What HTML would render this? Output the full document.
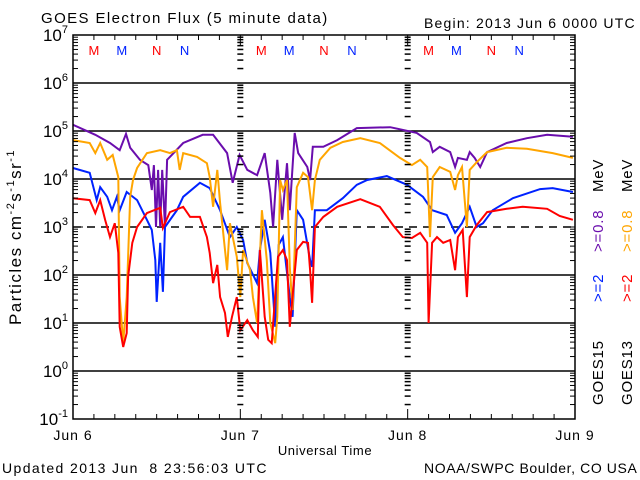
<!DOCTYPE html>
<html><head><meta charset="utf-8"><style>
html,body{margin:0;padding:0;background:#fff;}
svg{display:block;font-family:"Liberation Sans",sans-serif;}
</style></head><body>
<svg id="chart" width="640" height="480" viewBox="0 0 640 480" xmlns="http://www.w3.org/2000/svg">
<rect width="640" height="480" fill="#fff"/>
<text x="41" y="23" font-size="15" letter-spacing="1.4">GOES Electron Flux (5 minute data)</text>
<text x="424" y="28" font-size="14" letter-spacing="1.2">Begin: 2013 Jun 6 0000 UTC</text>
<text x="2" y="473" font-size="14" letter-spacing="1.4" xml:space="preserve">Updated 2013 Jun  8 23:56:03 UTC</text>
<text x="424" y="473" font-size="14" letter-spacing="0.6">NOAA/SWPC Boulder, CO USA</text>
<text x="325" y="455" font-size="13" text-anchor="middle" letter-spacing="0.6">Universal Time</text>
<text transform="translate(21,237) rotate(-90)" font-size="17" text-anchor="middle" letter-spacing="1.5">Particles cm<tspan dy="-7" font-size="11">-2</tspan><tspan dy="7">s</tspan><tspan dy="-7" font-size="11">-1</tspan><tspan dy="7">sr</tspan><tspan dy="-7" font-size="11">-1</tspan></text>
<g id="grid"></g>
<g id="series"></g>
<g id="axes"></g>
<g font-size="15" letter-spacing="0.8">
<text transform="translate(603,405) rotate(-90)">GOES15</text>
<text transform="translate(603,302) rotate(-90)" fill="#0022ff">&gt;=2</text>
<text transform="translate(603,252) rotate(-90)" fill="#6a0dad">&gt;=0.8</text>
<text transform="translate(603,192) rotate(-90)">MeV</text>
<text transform="translate(632,405) rotate(-90)">GOES13</text>
<text transform="translate(632,302) rotate(-90)" fill="#ff0000">&gt;=2</text>
<text transform="translate(632,252) rotate(-90)" fill="#ffa500">&gt;=0.8</text>
<text transform="translate(632,192) rotate(-90)">MeV</text>
</g>
</svg>
<script>
// ---- data (time in hours since 2013 Jun 6 00:00 UTC, values as log10 flux) ----
const dayLabels = ["Jun 6","Jun 7","Jun 8","Jun 9"];
const yTickExps = [-1,0,1,2,3,4,5,6,7];
const markerHours = [3,7,12,16,27,31,36,40,51,55,60,64];
const markerLabels = ["M","M","N","N","M","M","N","N","M","M","N","N"];
const markerColors = ["#ff0000","#0022ff","#ff0000","#0022ff","#ff0000","#0022ff","#ff0000","#0022ff","#ff0000","#0022ff","#ff0000","#0022ff"];

const purpleHours = [0,3.2,5.3,6.7,7.6,8.2,9.6,10.8,11.3,11.6,11.9,12.2,12.5,12.8,13.2,13.5,13.9,15.8,18.6,20.1,22.1,22.9,23.9,25.0,26.4,27.5,28.3,28.7,29.3,30.0,30.7,31.1,31.8,32.3,33.6,34.0,34.4,35.9,37.9,40.7,45.5,49.3,51.2,51.6,52.6,54.1,54.8,55.2,56.5,56.9,57.6,58.4,59.4,62.2,65.1,68.0,71.7];
const purpleLog = [5.13,4.92,4.75,4.60,4.94,4.65,4.40,4.29,3.77,4.29,3.0,4.19,3.0,4.19,3.0,4.40,4.46,4.75,4.92,4.92,4.54,3.92,4.5,4.19,4.08,4.54,3.71,3.0,4.40,3.15,4.33,3.35,4.96,4.54,4.25,3.98,4.67,4.67,4.81,5.06,5.08,4.96,4.77,4.56,4.67,4.56,4.25,4.44,4.40,4.56,4.44,4.25,4.56,4.75,4.85,4.92,4.88];

const blueHours = [0,2.4,3.4,3.9,4.9,5.6,6.3,6.7,7.7,9.2,10.6,11.3,11.8,12.0,12.5,12.9,13.2,14.9,15.8,18.2,19.6,21.1,22.5,23.5,24.4,25.0,26.4,26.8,27.5,28.3,29.0,29.5,30.1,31.1,31.5,32.1,33.0,34.0,34.3,34.7,36.4,38.7,40.7,42.2,45.0,47.9,50.2,51.5,53.6,54.8,55.8,56.9,57.9,58.8,60.2,63.1,67.0,68.8,71.7];
const blueLog = [4.23,4.13,3.56,3.83,3.63,3.35,3.63,3.35,3.73,3.56,3.15,2.94,2.31,1.44,2.67,1.65,3.0,3.35,3.63,3.92,3.81,3.35,2.79,3.0,2.73,2.25,1.83,2.52,3.15,2.46,0.92,2.63,2.79,1.54,1.13,3.35,3.15,2.31,2.17,3.35,3.35,3.60,3.88,3.98,4.06,3.88,3.63,3.35,3.25,2.88,3.08,3.42,3.0,3.08,3.35,3.60,3.79,3.81,3.73];

const orangeHours = [0,2.4,3.2,3.9,4.9,5.7,6.5,6.7,7.2,7.7,8.2,8.6,9.2,10.6,12.5,13.9,14.9,15.3,15.8,17.8,19.2,19.6,20.1,20.7,21.1,22.1,22.5,23.5,24.0,24.4,25.4,25.8,26.4,27.1,27.8,28.3,29.0,29.3,29.7,30.1,30.7,31.1,31.5,32.1,33.0,33.7,34.3,34.7,35.4,36.9,38.7,41.2,44.0,46.9,48.6,49.8,50.8,51.2,51.6,52.6,54.1,54.8,55.2,55.8,56.5,56.9,57.9,59.4,62.2,65.1,68.8,71.7];
const orangeLog = [4.81,4.75,4.54,4.75,4.40,4.5,4.04,1.54,0.58,1.54,3.63,3.98,4.23,4.54,4.60,4.54,4.60,4.19,4.54,4.46,4.33,4.04,3.42,4.19,3.5,2.10,3.08,2.38,1.54,2.52,2.10,1.54,1.0,3.35,2.31,1.0,0.58,1.13,3.98,3.77,3.98,2.17,1.27,3.83,4.13,4.04,3.35,3.98,4.40,4.65,4.77,4.85,4.75,4.44,4.29,4.40,4.25,2.79,4.04,4.25,4.15,3.77,4.08,4.25,3.0,4.19,4.35,4.56,4.65,4.63,4.54,4.44];

const redHours = [0,2.4,3.2,3.9,4.6,5.3,6.0,6.5,6.7,7.2,7.7,7.9,8.5,9.2,10.6,12.5,12.9,13.9,15.8,16.8,18.2,19.2,19.6,20.1,20.7,21.1,21.8,22.2,22.8,23.5,24.0,25.0,25.8,26.5,26.8,27.5,28.0,28.5,29.4,30.1,30.7,31.1,32.1,33.0,33.7,34.0,34.3,34.7,35.9,37.9,41.2,44.0,45.9,47.3,48.6,49.8,50.8,51.0,51.5,52.2,53.1,54.1,54.8,55.2,55.9,56.5,56.9,57.9,59.4,62.2,64.5,68.0,69.8,71.7];
const redLog = [3.60,3.56,3.29,3.56,3.15,2.79,3.08,2.46,0.92,0.5,0.79,1.96,2.67,3.0,3.29,3.40,2.98,3.31,3.42,3.21,3.21,2.79,2.46,1.83,2.21,1.54,1.21,0.71,1.13,1.54,0.85,1.06,0.85,0.71,2.52,1.13,0.65,0.58,2.38,2.52,2.31,0.92,2.52,2.69,2.67,2.10,1.42,3.0,3.21,3.42,3.58,3.42,3.04,2.79,2.77,2.88,2.67,1.0,2.67,2.79,2.67,2.73,2.10,2.79,2.94,1.54,2.79,3.04,3.31,3.38,3.42,3.38,3.23,3.15];

// ---- axis functions ----
const X0=73, X1=575, Y0=35, Y1=419, HOURS=72, EMIN=-1, EMAX=7;
function xScale(h){ return X0 + (h/HOURS)*(X1-X0); }
function yScale(e){ return Y1 - (e-EMIN)/(EMAX-EMIN)*(Y1-Y0); }
const NS="http://www.w3.org/2000/svg";
function mk(tag, attrs, parent){ const el=document.createElementNS(NS,tag); for(const k in attrs) el.setAttribute(k,attrs[k]); parent.appendChild(el); return el; }
const grid=document.getElementById('grid'), axes=document.getElementById('axes'), series=document.getElementById('series');

yTickExps.forEach(e=>{
  if(e===EMIN||e===EMAX) return;
  const y=yScale(e);
  const ln=mk('line',{x1:X0,x2:X1,y1:y,y2:y,stroke:'#000','stroke-width':1.5},grid);
  if(e===3) ln.setAttribute('stroke-dasharray','8,6');
  
  
});

yTickExps.forEach(e=>{
  const y=yScale(e);
  const t=mk('text',{x:X0-5,y:y+6,'font-size':17,'text-anchor':'end'},axes);
  
  
  t.textContent='10';
  const s=mk('tspan',{dy:-8,'font-size':11},t); s.textContent=String(e);
  if(e<EMAX){
    for(let m=2;m<=9;m++){
      const ym=yScale(e+Math.log10(m));
      [[X0,X0+5],[X1-5,X1]].forEach(p=>mk('line',{x1:p[0],x2:p[1],y1:ym,y2:ym,stroke:'#000','stroke-width':1},axes));
      [1,2].forEach(d=>{const xd=xScale(24*d); mk('line',{x1:xd-3,x2:xd+3,y1:ym,y2:ym,stroke:'#000','stroke-width':1.5},axes);});
    }
  }
  [[X0,X0+10],[X1-10,X1]].forEach(p=>mk('line',{x1:p[0],x2:p[1],y1:y,y2:y,stroke:'#000','stroke-width':1},axes));
});

for(let h=0;h<=HOURS;h+=3){
  const x=xScale(h), len=(h%24===0)?10:5;
  mk('line',{x1:x,x2:x,y1:Y1,y2:Y1-len,stroke:'#000','stroke-width':1},axes);
  mk('line',{x1:x,x2:x,y1:Y0,y2:Y0+len,stroke:'#000','stroke-width':1},axes);
}
dayLabels.forEach((d,i)=>{
  const t=mk('text',{x:xScale(24*i),y:440,'font-size':14,'text-anchor':'middle','letter-spacing':1},axes);
  
  
  t.textContent=d;
});
const frame=mk('rect',{x:X0,y:Y0,width:X1-X0,height:Y1-Y0,fill:'none',stroke:'#000','stroke-width':1.5},axes);



markerHours.forEach((h,i)=>{
  const t=mk('text',{x:xScale(h),y:55,'font-size':13,'text-anchor':'middle',fill:markerColors[i]},axes);
  
  
  t.textContent=markerLabels[i];
});

function drawSeries(hours, logs, color, name){
  let d='';
  for(let i=0;i<hours.length;i++){
    const x=xScale(hours[i]).toFixed(1), y=yScale(logs[i]).toFixed(1);
    d += (i?'L':'M')+x+','+y;
  }
  const p=mk('path',{d:d,fill:'none',stroke:color,'stroke-width':2,'stroke-linejoin':'miter'},series);
  
  
}
drawSeries(purpleHours,purpleLog,'#6a0dad','goes15-ge0.8-mev-line');
drawSeries(blueHours,blueLog,'#0022ff','goes15-ge2-mev-line');
drawSeries(orangeHours,orangeLog,'#ffa500','goes13-ge0.8-mev-line');
drawSeries(redHours,redLog,'#ff0000','goes13-ge2-mev-line');
</script>
</body></html>
